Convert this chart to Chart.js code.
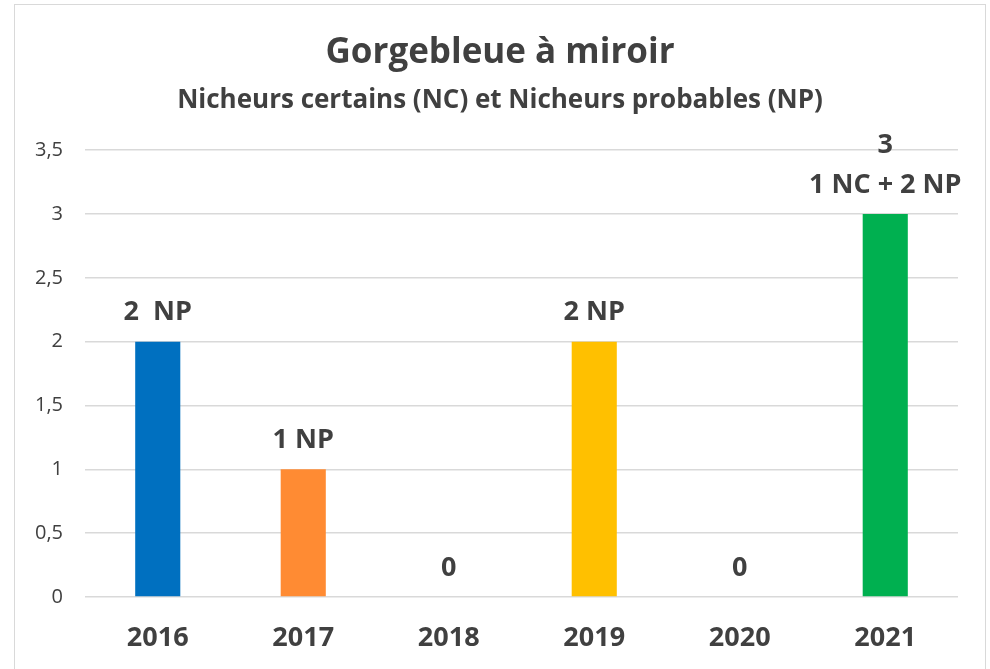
<!DOCTYPE html>
<html>
<head>
<meta charset="utf-8">
<script src="https://cdn.jsdelivr.net/npm/chart.js@4/dist/chart.umd.min.js"></script>
<style>
  html, body { margin: 0; padding: 0; background: #ffffff; }
  #wrap { position: relative; width: 990px; height: 669px; }
  #frame { position: absolute; left: 14px; top: 4px; width: 970px; height: 680px; border: 1px solid #d9d9d9; pointer-events: none; }
  canvas { position: absolute; left: 0; top: 0; }
</style>
</head>
<body>
<div id="wrap">
  <canvas id="c" width="990" height="669"></canvas>
  <div id="frame"></div>
</div>
<script>
const titleText = 'Gorgebleue à miroir';
const subtitleText = 'Nicheurs certains (NC) et Nicheurs probables (NP)';
const years = ['2016', '2017', '2018', '2019', '2020', '2021'];
const values = [2, 1, 0, 2, 0, 3];
const barColors = ['#0070C0', '#FF8B33', '#A5A5A5', '#FFC000', '#5B9BD5', '#00B050'];
const valueLabels = [['2  NP'], ['1 NP'], ['0'], ['2 NP'], ['0'], ['3', '1 NC + 2 NP']];
const yMin = 0, yMax = 3.5, yStep = 0.5;

const FONT = '"Open Sans", Lato, sans-serif';
const TEXT = '#404040';

const labelPlugin = {
  id: 'barLabels',
  afterDatasetsDraw(chart) {
    const ctx = chart.ctx;
    const meta = chart.getDatasetMeta(0);
    ctx.save();
    ctx.font = 'bold 27px ' + FONT;
    ctx.fillStyle = TEXT;
    ctx.textAlign = 'center';
    ctx.textBaseline = 'middle';
    meta.data.forEach((bar, i) => {
      const lines = valueLabels[i];
      const n = lines.length;
      lines.forEach((t, j) => {
        const y = bar.y - 29 - (n - 1 - j) * 40;
        ctx.fillText(t, bar.x, y);
      });
    });
    ctx.restore();
  }
};

// shift the title/subtitle boxes so they are centred like the reference
const titleShift = {
  id: 'titleShift',
  afterLayout(chart) {
    chart.boxes.forEach((b) => {
      if (b.options && typeof b.options.text === 'string') {
        b.left = 42;
      }
    });
  }
};

new Chart(document.getElementById('c'), {
  type: 'bar',
  data: {
    labels: years,
    datasets: [{
      data: values,
      backgroundColor: barColors,
      borderWidth: 0,
      barPercentage: 0.31,
      categoryPercentage: 1.0
    }]
  },
  options: {
    responsive: false,
    animation: false,
    layout: { padding: { left: 0, right: 32, top: 0, bottom: 0 } },
    plugins: {
      legend: { display: false },
      tooltip: { enabled: false },
      title: {
        display: true,
        text: titleText,
        color: TEXT,
        font: { family: FONT, size: 35, weight: 'bold', lineHeight: 1.2 },
        padding: { top: 32, bottom: 0 }
      },
      subtitle: {
        display: true,
        text: subtitleText,
        color: TEXT,
        font: { family: FONT, size: 26, weight: 'bold', lineHeight: 1.2 },
        padding: { top: 11, bottom: 34 }
      }
    },
    scales: {
      x: {
        grid: { display: false, drawTicks: false },
        border: { display: false },
        ticks: { color: TEXT, font: { family: FONT, size: 27, weight: 'bold' }, padding: 25 },
        afterFit(scale) { scale.height = 72; }
      },
      y: {
        min: yMin,
        max: yMax,
        grid: { color: '#d9d9d9', lineWidth: 1.5, drawTicks: false },
        border: { display: false },
        ticks: {
          stepSize: yStep,
          color: TEXT,
          font: { family: FONT, size: 20 },
          padding: 22,
          callback: (v) => String(v).replace('.', ',')
        },
        afterFit(scale) { scale.width = 85; }
      }
    }
  },
  plugins: [labelPlugin, titleShift]
});
</script>
</body>
</html>
